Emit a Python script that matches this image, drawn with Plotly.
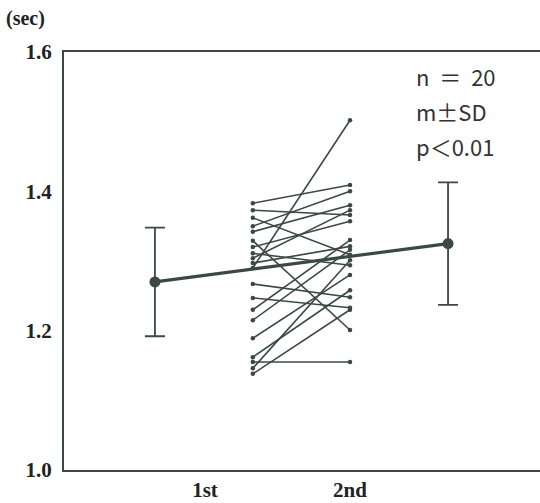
import plotly.graph_objects as go

# Data
categories = ["1st", "2nd"]
first_vals = [1.383, 1.373, 1.362, 1.350, 1.342, 1.329, 1.320, 1.290, 1.304, 1.297,
              1.267, 1.311, 1.247, 1.230, 1.215, 1.189, 1.162, 1.155, 1.146, 1.138]
second_vals = [1.409, 1.366, 1.309, 1.400, 1.380, 1.201, 1.357, 1.502, 1.373, 1.321,
               1.248, 1.294, 1.233, 1.330, 1.316, 1.280, 1.258, 1.155, 1.301, 1.230]
mean_vals = [1.270, 1.325]
sd_vals = [0.078, 0.088]
y_ticks = [1.0, 1.2, 1.4, 1.6]
notes = ["n\u00a0\u00a0＝\u00a0\u00a020", "m±SD", "p＜0.01"]

col = "#3b4843"
# x positions (layout)
cat_x = [1, 2]
indiv_x = [1.33, 2.0]
mean_x = [0.655, 2.676]

fig = go.Figure()
for a, b in zip(first_vals, second_vals):
    fig.add_trace(go.Scatter(x=indiv_x, y=[a, b], mode="lines+markers",
                             line=dict(color=col, width=1.6),
                             marker=dict(color=col, size=4.5), showlegend=False,
                             hoverinfo="skip"))
fig.add_trace(go.Scatter(x=mean_x, y=mean_vals, mode="lines+markers",
                         line=dict(color=col, width=3.2),
                         marker=dict(color=col, size=11),
                         error_y=dict(type="data", array=sd_vals, color=col,
                                      thickness=1.8, width=10),
                         showlegend=False))

fig.update_layout(
    width=540, height=503,
    margin=dict(l=64, r=0, t=52, b=33),
    plot_bgcolor="white", paper_bgcolor="white",
    xaxis=dict(range=[0.028, 3.31], tickvals=cat_x, ticktext=categories,
               showgrid=False, zeroline=False, showline=True, mirror=True,
               linecolor=col, linewidth=2, ticks="",
               tickfont=dict(family="Liberation Serif", size=21, color="#222", weight="bold"),
               fixedrange=True),
    yaxis=dict(range=[1.0, 1.6], tickvals=y_ticks,
               ticktext=[f"{v:.1f}" for v in y_ticks],
               showgrid=False, zeroline=False, showline=True, mirror=False,
               linecolor=col, linewidth=2, ticks="", ticklabelstandoff=6,
               tickfont=dict(family="Liberation Serif", size=21, color="#222", weight="bold"),
               fixedrange=True),
    font=dict(family="Liberation Serif"),
)

fig.add_annotation(text="<b>(sec)</b>", xref="paper", yref="paper",
                   x=-60/476, y=1 + 33/418, xanchor="left", yanchor="middle",
                   showarrow=False, font=dict(family="Liberation Serif", size=20, color="#222"))
for i, t in enumerate(notes):
    fig.add_annotation(text=t, xref="paper", yref="paper",
                       x=(414 - 64) / 476, y=1 - (24 + 35 * i) / 418,
                       xanchor="left", yanchor="middle", showarrow=False,
                       font=dict(family="Noto Sans CJK JP", size=22, color="#333"))

fig.write_html("out.html")
